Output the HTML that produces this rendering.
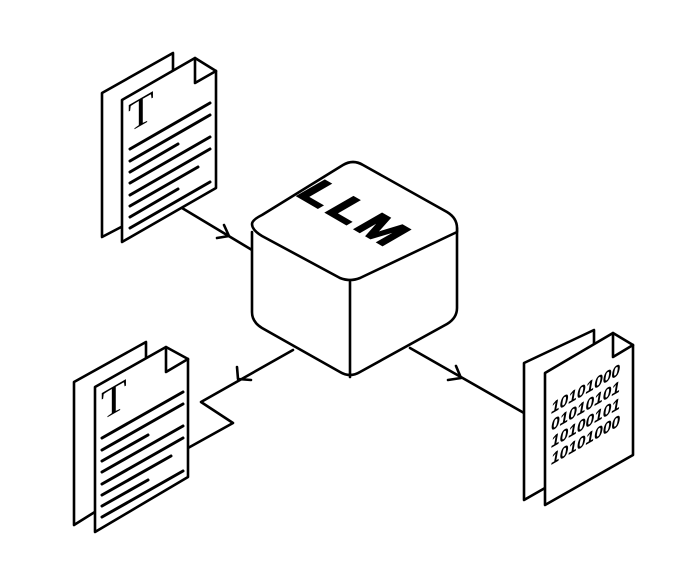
<!DOCTYPE html>
<html><head><meta charset="utf-8"><style>html,body{margin:0;padding:0;background:#fff;}svg{display:block}</style></head>
<body>
<svg width="700" height="584" viewBox="0 0 700 584" xmlns="http://www.w3.org/2000/svg">
<g fill="#fff" stroke="#000" stroke-width="2.6" stroke-linejoin="round" stroke-linecap="round">
<!-- connectors -->
<path d="M182 208 L252 250" fill="none"/>
<path d="M217 238 L229 236 L224 225" fill="none"/>
<path d="M293 350 L201 402 L233 423 L188 448" fill="none"/>
<path d="M237 367 L238 379 L251 380" fill="none"/>
<path d="M410 348 L524 413" fill="none"/>
<path d="M448 380 L461 378 L456 366" fill="none"/>

<!-- top doc -->
<path d="M102 237 L102 93 L173 53 L173 200 Z"/>
<path d="M122 242 L122 100 L195 58 L216 71 L216 188 Z"/>
<path d="M195 58 L195 83 L216 71" fill="none"/>
<g stroke-width="3">
<path d="M130 149 L210 103"/><path d="M130 161 L210 115"/><path d="M130 172 L178 144"/>
<path d="M130 183 L210 137"/><path d="M130 195 L210 149"/><path d="M130 206 L198 167"/>
<path d="M130 217 L178 189"/><path d="M130 228 L210 182"/>
</g>

<!-- bottom-left doc -->
<path d="M74 525 L74 382 L146 342 L146 480 Z"/>
<path d="M95 532 L95 387 L166 347 L188 359 L188 477 Z"/>
<path d="M166 347 L166 372 L188 359" fill="none"/>
<g stroke-width="3">
<path d="M102 438 L183 392"/><path d="M102 450 L183 404"/><path d="M102 461 L148 435"/>
<path d="M102 472 L183 426"/><path d="M102 484 L183 438"/><path d="M102 495 L171 456"/>
<path d="M102 506 L148 480"/><path d="M102 517 L183 471"/>
</g>

<!-- right doc -->
<path d="M524 500 L524 363 L594 330 L594 460 Z"/>
<path d="M545 505 L545 373 L613 333 L633 345 L633 455 Z"/>
<path d="M613 333 L613 357 L633 345" fill="none"/>

<!-- cube -->
<path d="M252 232 L252 312 Q252 322 262 328 L340 372 Q350 378 360 372 L447 324 Q457 318 457 308 L457 228" />
<path d="M262 215 L343 165 Q353 159 363 165 L447 212 Q457 218 457 228 L457 232 L360 278 Q350 282 340 278 L262 236 Q252 230 252 224 Q252 220 262 215 Z"/>
<path d="M350 280 L350 377" fill="none"/>
</g>

<text transform="matrix(0.866 0.5 -0.866 0.5 356 214)" text-anchor="middle" dy="16" font-family="Liberation Sans, sans-serif" font-weight="bold" font-size="46" letter-spacing="5" stroke="#000" stroke-width="2">LLM</text>

<g font-family="Liberation Serif, serif" font-size="42">
<text transform="matrix(1 -0.577 0 1 128 133)">T</text>
<text transform="matrix(1 -0.577 0 1 101 421)">T</text>
</g>
<g font-family="Liberation Sans, sans-serif" font-size="15.5" font-weight="bold" font-style="italic">
<text transform="matrix(1 -0.577 0 1 551 414)">10101000</text>
<text transform="matrix(1 -0.577 0 1 551 431)">01010101</text>
<text transform="matrix(1 -0.577 0 1 551 448)">10100101</text>
<text transform="matrix(1 -0.577 0 1 551 465)">10101000</text>
</g>
</svg>
</body></html>
